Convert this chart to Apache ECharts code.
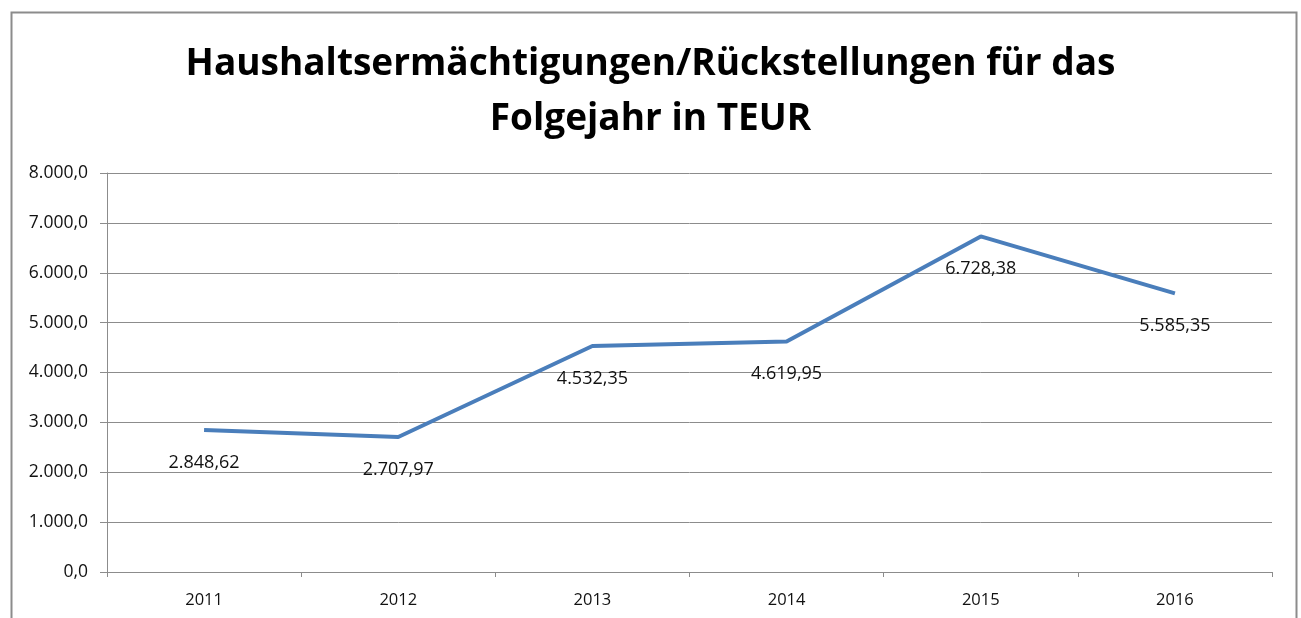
<!doctype html>
<html lang="de">
<head>
<meta charset="utf-8" />
<script src="https://cdn.jsdelivr.net/npm/echarts@6/dist/echarts.min.js"></script>
<style>
  html, body { margin: 0; padding: 0; background: #fff; }
  #chart { width: 1301px; height: 618px; }
</style>
</head>
<body>
<div id="chart"></div>
<script>
const FONT = "'Open Sans', 'Noto Sans', sans-serif";
const years = ["2011", "2012", "2013", "2014", "2015", "2016"];
const values = [2848.62, 2707.97, 4532.35, 4619.95, 6728.38, 5585.35];

// German number formatting: 1.234,5
function fmtDe(value, digits) {
  const parts = Number(value).toFixed(digits).split(".");
  parts[0] = parts[0].replace(/\B(?=(\d{3})+(?!\d))/g, ".");
  return parts.join(",");
}

const chart = echarts.init(document.getElementById("chart"), null, { renderer: "canvas" });
chart.setOption({
  animation: false,
  backgroundColor: "#ffffff",
  title: {
    text: "Haushaltsermächtigungen/Rückstellungen für das\nFolgejahr in TEUR",
    left: "center",
    top: 32,
    textStyle: { fontFamily: FONT, fontSize: 37, fontWeight: "bold", color: "#000", lineHeight: 55 },
  },
  graphic: [{
    type: "rect",
    shape: { x: 11.5, y: 12.5, width: 1285, height: 640 },
    style: { fill: "none", stroke: "#8c8c8c", lineWidth: 2 },
    silent: true,
  }],
  grid: { left: 107, right: 29, top: 173, bottom: 46 },
  xAxis: {
    type: "category",
    data: years,
    boundaryGap: true,
    axisLine: { lineStyle: { color: "#8c8c8c", width: 1 } },
    axisTick: { show: true, length: 5, lineStyle: { color: "#8c8c8c" } },
    axisLabel: { fontFamily: FONT, fontSize: 16.5, color: "#111", margin: 20 },
  },
  yAxis: {
    type: "value",
    min: 0,
    max: 8000,
    interval: 1000,
    axisLine: { show: true, lineStyle: { color: "#8c8c8c", width: 1 } },
    axisTick: { show: true, length: 7, lineStyle: { color: "#8c8c8c" } },
    axisLabel: { fontFamily: FONT, fontSize: 17.5, color: "#111", margin: 19, formatter: (v) => fmtDe(v, 1) },
    splitLine: { lineStyle: { color: "#8c8c8c", width: 1 } },
  },
  series: [{
    type: "line",
    data: values,
    symbol: "circle",
    symbolSize: 1,
    itemStyle: { color: "#4a7ebb", opacity: 0 },
    lineStyle: { color: "#4a7ebb", width: 4 },
    label: {
      show: true,
      position: "bottom",
      distance: 23,
      fontFamily: FONT,
      fontSize: 18,
      color: "#111",
      opacity: 1,
      formatter: (p) => fmtDe(p.value, 2),
    },
  }],
});
</script>
</body>
</html>
